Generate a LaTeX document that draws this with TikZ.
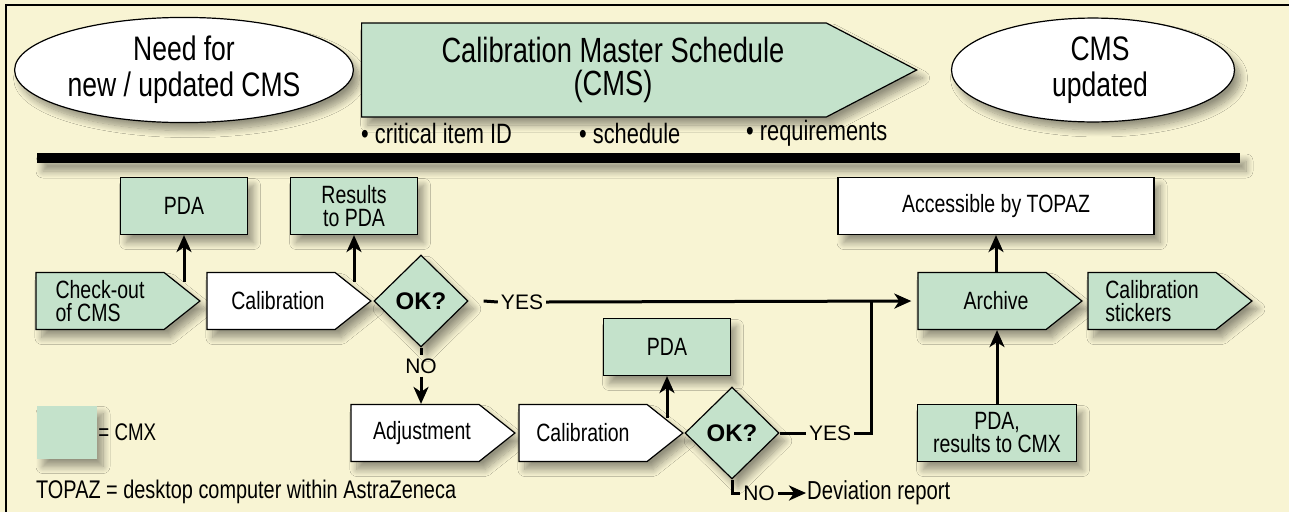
\documentclass[tikz,border=0pt]{standalone}
\usepackage{fontspec}
\setmainfont{Liberation Sans}[FakeStretch=0.78]
\newfontfamily\widesf{Liberation Sans}
\usetikzlibrary{arrows.meta,calc,shapes.geometric,shapes.symbols,shadows.blur}
\definecolor{paper}{HTML}{F8F4D3}
\definecolor{cmxgreen}{HTML}{C4E2CB}
\tikzset{
  softshadow/.style={blur shadow={shadow xshift=6pt,shadow yshift=-8pt,shadow blur radius=7pt,shadow blur steps=12,shadow opacity=40}},
  cmx/.style={draw,line width=1.2pt,fill=cmxgreen,softshadow},
  blank/.style={draw,line width=1.2pt,fill=white,softshadow},
  pdabox/.style={rectangle,minimum width=127pt,minimum height=57pt,align=center,inner sep=2pt},
  procbox/.style={signal,signal to=east,signal pointer angle=77,minimum width=164pt,minimum height=57pt,align=left,inner sep=2pt},
  decision/.style={diamond,aspect=1,minimum width=94pt,minimum height=92pt,inner sep=0pt,font=\widesf\bfseries\fontsize{24}{24}\selectfont},
  oval/.style={ellipse,minimum width=283pt,minimum height=94pt,align=center,font=\fontsize{34}{36}\selectfont},
  bullet/.style={anchor=west,inner sep=0pt,font=\fontsize{28}{28}\selectfont},
  answer/.style={inner sep=3pt,font=\widesf\fontsize{21}{21}\selectfont},
  flow/.style={line width=3pt,-{Stealth[length=17pt,width=15pt,inset=5pt]}},
  wire/.style={line width=3pt}
}
\newcommand{\nudge}{\hspace*{14pt}}
\begin{document}
\begin{tikzpicture}[x=1pt,y=-1pt,node distance=170pt,font=\fontsize{25}{23}\selectfont]
\fill[paper] (0,0) rectangle (1289,512);
\useasboundingbox (0,0) rectangle (1289,512);
\draw[line width=2.5pt] (1289,5) -- (6,5) -- (6,512);

% header
\node[oval,blank] (need) at (184,70) {Need for\\new / updated CMS};
\node[oval,blank] (updated) at (1093,70) {\hspace*{14pt}CMS\\\hspace*{14pt}updated};
\node[signal,signal to=east,signal pointer angle=55,minimum width=555pt,minimum height=94pt,
  cmx,align=center,font=\fontsize{35}{33}\selectfont] (cms) at (594,70)
  {\hspace*{38pt}Calibration Master Schedule\\\hspace*{38pt}(CMS)};
\node[bullet] (itemid) at (361,133) {• critical item ID};
\node[bullet] (sched) at (579,133) {• schedule};
\node[bullet] (reqs) at (746,133) {• requirements};
\fill[softshadow] (37,153) rectangle (1240,163);

% first row
\node[procbox,cmx] (checkout) at (100,301) {Check-out\\of CMS};
\node[procbox,blank] (cal1) [right of=checkout,node distance=171pt] {\nudge Calibration};
\node[pdabox,cmx] (pda1) at (184,206) {PDA};
\node[pdabox,cmx] (topda) [right of=pda1] {Results\\to PDA};
\node[decision,cmx] (ok1) at (421,301) {OK?};
\node[pdabox,blank,minimum width=316pt] (access) at (996,206) {Accessible by TOPAZ};
\node[procbox,cmx] (archive) at (982,301) {\nudge\nudge Archive};
\node[procbox,cmx] (stickers) [right of=archive] {Calibration\\stickers};

% second row
\node[procbox,blank] (adjust) at (415,433) {\nudge Adjustment};
\node[procbox,blank] (cal2) [right of=adjust,node distance=168pt] {Calibration};
\node[pdabox,cmx] (pda2) at (667,347) {PDA};
\node[decision,cmx] (ok2) at (732,433) {OK?};
\node[pdabox,cmx,minimum width=159pt] (tocmx) at (997,433) {PDA,\\results to CMX};

% legend
\node[fill=cmxgreen,softshadow,minimum width=60pt,minimum height=53pt,inner sep=0pt] (key) at (67,432) {};
\node[anchor=west,inner sep=1pt,font=\fontsize{24}{24}\selectfont] (keytext) at (key.east) {= CMX};
\node[anchor=west,inner sep=0pt,font=\fontsize{25.5}{25}\selectfont] (topaz) at (36,492) {TOPAZ = desktop computer within AstraZeneca};

% answers
\node[answer] (no1) at (421,366) {NO};
\node[answer] (yes1) at (522,302) {YES};
\node[answer] (yes2) at (830,433) {YES};
\node[answer] (no2) at (759,493) {NO};
\node[anchor=west,inner sep=1pt,font=\fontsize{26}{26}\selectfont] (deviation) at (806,493) {Deviation report};
\coordinate (join) at ($(archive.west)+(-46,0)$);

% connectors
\draw[flow] ($(pda1.south |- checkout.north)+(0,10)$) -- (pda1.south);
\draw[flow] ($(topda.south |- cal1.north)+(0,10)$) -- (topda.south);
\draw[flow] ($(pda2.south |- cal2.north)+(0,14)$) -- (pda2.south);
\draw[wire] (ok1.south) -- (no1.north);
\draw[flow] (no1.south) -- (ok1.south |- adjust.north);
\draw[wire] ([xshift=15pt]ok1.east) -- (yes1.west);
\draw[flow,shorten >=6pt] (yes1.east) -- (archive.west);
\draw[wire] (ok2.east) -- (yes2.west);
\draw[wire] (yes2.east) -| (join);
\draw[wire] (ok2.south) |- (no2.west);
\draw[flow] (no2.east) -- (deviation.west);
\draw[flow] (access.south |- archive.north) -- (access.south);
\draw[flow] (tocmx.north) -- (tocmx.north |- archive.south);
\end{tikzpicture}
\end{document}
